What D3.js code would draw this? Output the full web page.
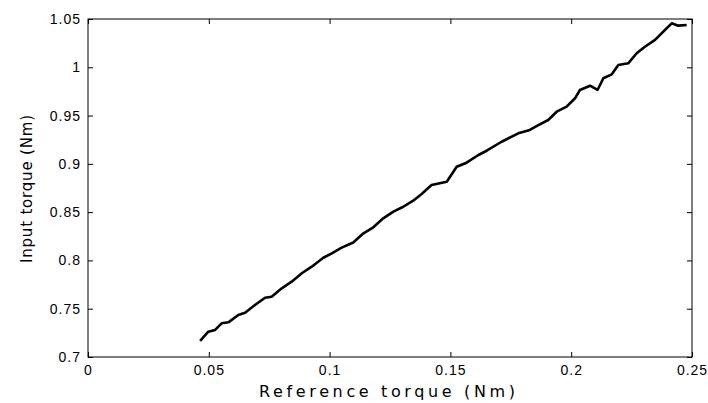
<!DOCTYPE html>
<html><head><meta charset="utf-8">
<script src="https://cdn.jsdelivr.net/npm/d3@7"></script>
<style>body{margin:0;background:#fff}svg{display:block}</style>
</head><body>
<script>
const xTicks = [0, 0.05, 0.1, 0.15, 0.2, 0.25];
const xTickLabels = ["0", "0.05", "0.1", "0.15", "0.2", "0.25"];
const yTicks = [0.7, 0.75, 0.8, 0.85, 0.9, 0.95, 1, 1.05];
const yTickLabels = ["0.7", "0.75", "0.8", "0.85", "0.9", "0.95", "1", "1.05"];
const refTorque = [0.0464, 0.0498, 0.0526, 0.0553, 0.0581, 0.0622, 0.0650, 0.0691, 0.0733, 0.0760, 0.0802, 0.0843, 0.0885, 0.0926, 0.0974, 0.1009, 0.1050, 0.1098, 0.1140, 0.1181, 0.1222, 0.1264, 0.1305, 0.1346, 0.1381, 0.1422, 0.1485, 0.1526, 0.1567, 0.1616, 0.1650, 0.1712, 0.1781, 0.1829, 0.1864, 0.1905, 0.1940, 0.1981, 0.2016, 0.2036, 0.2078, 0.2109, 0.2133, 0.2168, 0.2195, 0.2236, 0.2271, 0.2305, 0.2347, 0.2388, 0.2416, 0.2443, 0.2478];
const inputTorque = [0.7166, 0.7262, 0.7280, 0.7349, 0.7359, 0.7435, 0.7459, 0.7538, 0.7614, 0.7624, 0.7711, 0.7780, 0.7867, 0.7935, 0.8028, 0.8074, 0.8132, 0.8185, 0.8281, 0.8343, 0.8436, 0.8505, 0.8556, 0.8619, 0.8688, 0.8781, 0.8815, 0.8970, 0.9012, 0.9092, 0.9136, 0.9229, 0.9316, 0.9351, 0.9402, 0.9454, 0.9540, 0.9592, 0.9679, 0.9765, 0.9809, 0.9765, 0.9886, 0.9927, 1.0024, 1.0041, 1.0145, 1.0213, 1.0283, 1.0386, 1.0455, 1.0431, 1.0438];

const W = 708, H = 403;
const m = {left: 88, right: 16, top: 19, bottom: 46};
const svg = d3.select("body").append("svg").attr("width", W).attr("height", H);
const x = d3.scaleLinear().domain([0, 0.25]).range([m.left, W - m.right]);
const y = d3.scaleLinear().domain([0.7, 1.05]).range([H - m.bottom, m.top]);
const font = "'Liberation Sans', Arial, sans-serif";
const titleFont = "'DejaVu Sans', sans-serif";

// box
svg.append("rect").attr("x", x(0)).attr("y", y(1.05)).attr("width", x(0.25) - x(0)).attr("height", y(0.7) - y(1.05))
  .attr("fill", "none").attr("stroke", "#000").attr("stroke-width", 1);

const tl = 5;
const xa = svg.append("g").attr("transform", `translate(0,${y(0.7)})`)
  .call(d3.axisBottom(x).tickValues(xTicks).tickFormat((d, i) => xTickLabels[i]).tickSizeInner(-tl).tickSizeOuter(0).tickPadding(8));
xa.select(".domain").remove();
xa.selectAll("text").attr("font-family", font).attr("font-size", 14).attr("letter-spacing", 1).attr("fill", "#000");
svg.append("g").attr("transform", `translate(0,${y(1.05)})`)
  .call(d3.axisTop(x).tickValues(xTicks).tickFormat("").tickSizeInner(-tl).tickSizeOuter(0))
  .select(".domain").remove();
const ya = svg.append("g").attr("transform", `translate(${x(0)},0)`)
  .call(d3.axisLeft(y).tickValues(yTicks).tickFormat((d, i) => yTickLabels[i]).tickSizeInner(-tl).tickSizeOuter(0).tickPadding(7));
ya.select(".domain").remove();
ya.selectAll("text").attr("font-family", font).attr("font-size", 14).attr("letter-spacing", 1).attr("fill", "#000");
svg.append("g").attr("transform", `translate(${x(0.25)},0)`)
  .call(d3.axisRight(y).tickValues(yTicks).tickFormat("").tickSizeInner(-tl).tickSizeOuter(0))
  .select(".domain").remove();
svg.selectAll(".tick line").attr("stroke", "#000");

const data = refTorque.map((v, i) => [v, inputTorque[i]]);
svg.append("path").datum(data)
  .attr("fill", "none").attr("stroke", "#000").attr("stroke-width", 2.6).attr("stroke-linejoin", "round")
  .attr("d", d3.line().x(d => x(d[0])).y(d => y(d[1])));

svg.append("text").attr("x", 387).attr("y", 397).attr("text-anchor", "middle")
  .attr("font-family", titleFont).attr("font-size", 16).attr("textLength", 256).attr("lengthAdjust", "spacing")
  .text("Reference torque (Nm)");
svg.append("text").attr("transform", `translate(32,189) rotate(-90)`).attr("text-anchor", "middle")
  .attr("font-family", titleFont).attr("font-size", 15).attr("textLength", 148).attr("lengthAdjust", "spacing")
  .text("Input torque (Nm)");
</script>
</body></html>
